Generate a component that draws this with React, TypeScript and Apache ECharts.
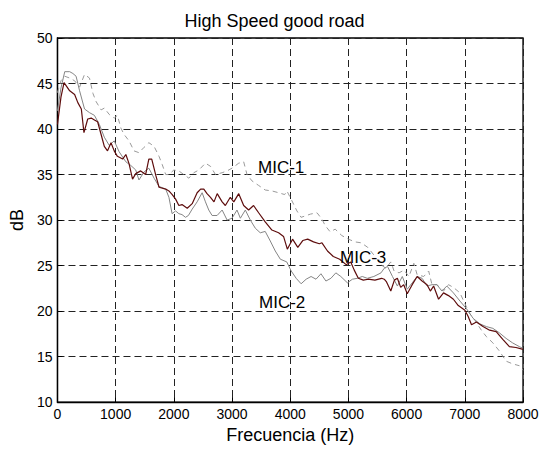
import React, { useEffect, useRef } from "react";
import * as echarts from "echarts";

const chartTitle = "High Speed good road";
const xAxisName = "Frecuencia (Hz)";
const yAxisName = "dB";
const xTicks = [0, 1000, 2000, 3000, 4000, 5000, 6000, 7000, 8000];
const yTicks = [10, 15, 20, 25, 30, 35, 40, 45, 50];

const mic1Freq = [0, 60, 125, 210, 295, 380, 465, 550, 610, 665, 750, 805, 890, 975, 1030, 1090, 1145, 1230, 1315, 1400, 1490, 1570, 1660, 1745, 1800, 1860, 1915, 2000, 2085, 2170, 2258, 2343, 2430, 2543, 2630, 2715, 2830, 2915, 3000, 3115, 3200, 3257, 3343, 3457, 3570, 3685, 3800, 3904, 3943, 4030, 4115, 4186, 4280, 4346, 4460, 4545, 4600, 4687, 4772, 4886, 5000, 5114, 5220, 5332, 5445, 5559, 5643, 5728, 5785, 5870, 5955, 6040, 6124, 6181, 6294, 6379, 6436, 6521, 6634, 6719, 6804, 6917, 7002, 7087, 7171, 7285, 7370, 7483, 7596, 7709, 7822, 7936, 8000];
const mic1Db = [44.0, 45.3, 45.8, 45.6, 45.3, 44.6, 46.0, 45.6, 43.9, 43.0, 42.1, 42.3, 41.6, 41.2, 41.5, 40.1, 39.4, 38.7, 37.6, 37.4, 38.0, 38.5, 38.1, 37.0, 36.1, 35.0, 35.0, 35.5, 35.4, 35.0, 34.6, 35.2, 35.5, 36.25, 35.9, 35.0, 35.2, 35.4, 35.7, 36.25, 36.4, 35.0, 34.3, 33.8, 33.3, 33.2, 33.0, 32.8, 33.2, 32.1, 31.0, 30.3, 30.5, 30.65, 30.8, 30.1, 29.4, 28.7, 29.0, 28.3, 27.9, 27.6, 27.5, 27.0, 26.1, 25.1, 24.7, 25.4, 24.4, 24.2, 24.5, 23.8, 25.25, 24.0, 23.8, 24.4, 22.9, 22.9, 22.2, 22.9, 22.6, 22.0, 20.8, 19.7, 19.0, 17.9, 17.2, 16.5, 15.6, 14.5, 14.2, 14.0, 13.5];

const mic2Freq = [0, 60, 125, 210, 265, 320, 380, 465, 550, 635, 720, 805, 890, 975, 1060, 1175, 1260, 1345, 1400, 1490, 1570, 1660, 1745, 1860, 1915, 1970, 2030, 2086, 2140, 2200, 2250, 2315, 2400, 2486, 2543, 2600, 2657, 2743, 2830, 2915, 3000, 3085, 3143, 3228, 3314, 3400, 3485, 3570, 3657, 3743, 3830, 3940, 4017, 4102, 4187, 4273, 4358, 4443, 4528, 4613, 4699, 4784, 4869, 4983, 5068, 5153, 5238, 5324, 5437, 5560, 5615, 5672, 5757, 5841, 5926, 6011, 6096, 6181, 6266, 6351, 6436, 6521, 6606, 6691, 6804, 6917, 7030, 7143, 7256, 7369, 7483, 7596, 7709, 7822, 7936, 8000];
const mic2Db = [42.0, 44.5, 46.3, 46.3, 46.1, 45.8, 44.2, 42.2, 41.8, 41.5, 40.5, 39.1, 38.2, 38.7, 37.5, 36.4, 36.0, 35.5, 34.4, 35.3, 35.7, 34.6, 33.7, 33.4, 32.5, 30.7, 31.0, 30.7, 30.6, 30.3, 30.5, 31.2, 32.0, 33.0, 32.0, 31.1, 30.5, 30.5, 31.1, 30.0, 30.2, 31.1, 30.2, 31.1, 30.0, 29.1, 28.6, 28.75, 27.7, 26.6, 25.7, 25.4, 24.4, 23.6, 23.0, 23.5, 23.8, 23.5, 24.1, 23.3, 23.6, 24.2, 23.8, 23.1, 23.5, 23.6, 23.8, 23.6, 23.8, 24.2, 24.7, 24.9, 23.8, 22.75, 23.8, 22.4, 23.1, 23.8, 23.6, 22.75, 22.9, 22.9, 22.2, 22.75, 22.0, 21.1, 20.25, 19.2, 18.6, 18.3, 18.1, 17.6, 17.0, 16.5, 16.1, 15.9];

const mic3Freq = [0, 60, 113, 210, 295, 350, 410, 455, 520, 580, 635, 690, 750, 805, 860, 920, 975, 1030, 1120, 1175, 1230, 1290, 1345, 1430, 1515, 1570, 1620, 1690, 1745, 1860, 1915, 1972, 2030, 2086, 2140, 2230, 2315, 2400, 2460, 2515, 2570, 2630, 2690, 2745, 2830, 2885, 2970, 3030, 3115, 3200, 3285, 3370, 3457, 3570, 3685, 3800, 3885, 3950, 4040, 4130, 4215, 4300, 4400, 4500, 4545, 4640, 4740, 4850, 4960, 5040, 5100, 5170, 5256, 5340, 5455, 5570, 5615, 5655, 5728, 5790, 5841, 5898, 5950, 6011, 6096, 6181, 6266, 6351, 6408, 6464, 6549, 6634, 6719, 6804, 6888, 7002, 7058, 7115, 7200, 7313, 7426, 7539, 7653, 7766, 7879, 8000];
const mic3Db = [40.5, 43.5, 45.1, 44.2, 43.8, 42.9, 42.2, 39.6, 41.1, 41.2, 41.0, 40.8, 39.4, 38.1, 37.6, 38.5, 37.6, 37.0, 36.7, 37.2, 36.2, 34.5, 35.1, 35.4, 35.0, 36.7, 36.7, 34.9, 33.6, 33.4, 33.2, 32.8, 32.3, 31.6, 31.7, 31.3, 31.8, 33.0, 33.4, 33.4, 32.9, 32.5, 32.0, 32.9, 32.0, 31.6, 32.5, 32.0, 32.9, 31.6, 31.1, 31.6, 30.8, 29.8, 28.9, 28.6, 28.2, 26.8, 27.9, 27.0, 27.75, 27.9, 27.6, 27.4, 27.5, 26.6, 26.0, 25.7, 25.1, 25.4, 24.5, 23.6, 23.4, 23.5, 23.4, 23.6, 23.5, 23.2, 22.2, 23.4, 23.6, 22.6, 22.9, 21.9, 22.9, 23.8, 23.3, 22.9, 22.2, 22.75, 21.3, 22.0, 21.7, 21.3, 20.6, 20.1, 19.4, 18.5, 18.8, 18.3, 17.9, 17.75, 16.9, 16.1, 16.0, 15.8];

const seriesNames = ["MIC-1", "MIC-2", "MIC-3"];

const pairs = (xs: number[], ys: number[]) => xs.map((x, i) => [x, ys[i]]);

const FONT = "'Liberation Sans', Arial, sans-serif";

export default function App() {
  const ref = useRef<HTMLDivElement>(null);
  useEffect(() => {
    document.body.style.margin = "0";
    const chart = echarts.init(ref.current!, null, { renderer: "svg" });
    const gridLine = { show: true, lineStyle: { color: "#222", width: 1, type: [7, 4] as any } };
    chart.setOption({
      animation: false,
      backgroundColor: "#fff",
      textStyle: { fontFamily: FONT },
      grid: { left: 54, top: 38, width: 469, height: 369, show: true, borderColor: "#000", borderWidth: 1.3, backgroundColor: "transparent" },
      xAxis: {
        type: "value",
        min: xTicks[0],
        max: xTicks[xTicks.length - 1],
        interval: 1000,
        name: xAxisName,
        nameLocation: "middle",
        nameGap: 22,
        nameTextStyle: { fontSize: 18, color: "#000", fontFamily: FONT },
        axisLine: { show: true, lineStyle: { color: "#000", width: 1.3 } },
        axisTick: { show: true, inside: true, length: 5, lineStyle: { color: "#000" } },
        axisLabel: { fontSize: 14, color: "#000", margin: 5, fontFamily: FONT, formatter: (v: number) => String(v) },
        splitLine: gridLine,
      },
      yAxis: {
        type: "value",
        min: yTicks[0],
        max: yTicks[yTicks.length - 1],
        interval: 5,
        name: yAxisName,
        nameLocation: "middle",
        nameGap: 21,
        nameTextStyle: { fontSize: 18, color: "#000", fontFamily: FONT },
        axisLine: { show: true, lineStyle: { color: "#000", width: 1.3 } },
        axisTick: { show: true, inside: true, length: 5, lineStyle: { color: "#000" } },
        axisLabel: { fontSize: 14, color: "#000", margin: 5, fontFamily: FONT, formatter: (v: number) => String(v) },
        splitLine: gridLine,
      },
      series: [
        {
          name: seriesNames[0],
          type: "line",
          data: pairs(mic1Freq, mic1Db),
          showSymbol: false,
          lineStyle: { color: "#9a9a9a", width: 1, type: [5, 4] as any },
          z: 3,
        },
        {
          name: seriesNames[1],
          type: "line",
          data: pairs(mic2Freq, mic2Db),
          showSymbol: false,
          lineStyle: { color: "#858585", width: 1 },
          z: 4,
        },
        {
          name: seriesNames[2],
          type: "line",
          data: pairs(mic3Freq, mic3Db),
          showSymbol: false,
          lineStyle: { color: "#5e0d0d", width: 1.2 },
          z: 5,
        },
      ],
      graphic: [
        { type: "text", x: 274.5, y: 20.5, style: { text: chartTitle, fill: "#000", font: `18px ${FONT}`, textAlign: "center", textVerticalAlign: "middle" } },
        { type: "text", x: 258, y: 167, z: 10, style: { text: seriesNames[0], fill: "#000", font: `17px ${FONT}`, textAlign: "left", textVerticalAlign: "middle" } },
        { type: "text", x: 259, y: 302, z: 10, style: { text: seriesNames[1], fill: "#000", font: `17px ${FONT}`, textAlign: "left", textVerticalAlign: "middle" } },
        { type: "text", x: 340, y: 257, z: 10, style: { text: seriesNames[2], fill: "#000", font: `17px ${FONT}`, textAlign: "left", textVerticalAlign: "middle" } },
      ],
    });
    return () => chart.dispose();
  }, []);
  return <div ref={ref} style={{ width: 547, height: 449 }} />;
}
